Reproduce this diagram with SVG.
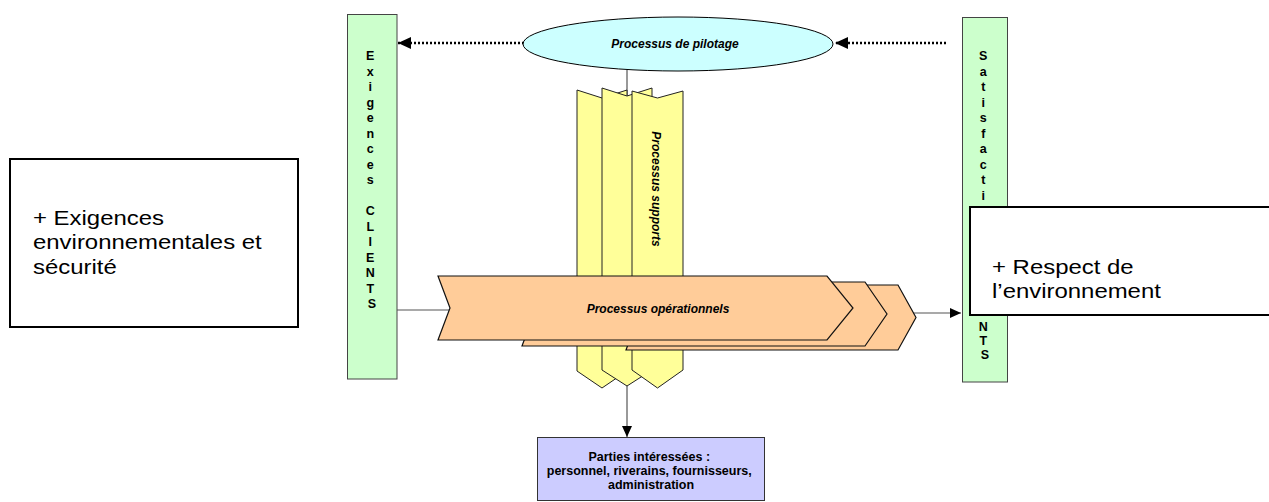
<svg xmlns="http://www.w3.org/2000/svg" width="1269" height="502" viewBox="0 0 1269 502">
  <style>
    .bar { fill: #ccffcc; stroke: #444; stroke-width: 1; }
    .sup { fill: #ffff99; stroke: #222; stroke-width: 1; }
    .op { fill: #ffcc99; stroke: #111; stroke-width: 1.2; }
    .note { fill: #fff; stroke: #000; stroke-width: 2; }
    .vl { font-family: "Liberation Sans", Arial, sans-serif; font-size: 12.5px; font-weight: bold; text-anchor: middle; fill: #000; }
    .bi { font-family: "Liberation Sans", Arial, sans-serif; font-size: 12px; font-weight: bold; font-style: italic; text-anchor: middle; fill: #000; }
    .pl { font-family: "Liberation Sans", Arial, sans-serif; font-size: 12.5px; font-weight: bold; text-anchor: middle; fill: #000; }
    .big { font-family: "Liberation Sans", Arial, sans-serif; font-size: 21px; fill: #000; }
    .dot { fill: none; stroke: #000; stroke-width: 2.5; stroke-dasharray: 2 2; }
    .ln { fill: none; stroke: #555; stroke-width: 1.2; }
  </style>
  <defs>
    <marker id="headBig" markerUnits="userSpaceOnUse" markerWidth="14" markerHeight="12" refX="13" refY="6" orient="auto">
      <path d="M0,0 L13,6 L0,12 Z" fill="#000"/>
    </marker>
    <marker id="head" markerUnits="userSpaceOnUse" markerWidth="12" markerHeight="10" refX="11" refY="5" orient="auto">
      <path d="M0,0 L11,5 L0,10 Z" fill="#000"/>
    </marker>
  </defs>

  <!-- client requirements bar -->
  <g id="exigences-clients">
    <rect class="bar" x="347.5" y="14.5" width="49.5" height="364.5"/>
    <text class="vl">
      <tspan x="372" y="60">E</tspan>
      <tspan x="372" y="75.5">x</tspan>
      <tspan x="372" y="91">i</tspan>
      <tspan x="372" y="106.5">g</tspan>
      <tspan x="372" y="122">e</tspan>
      <tspan x="372" y="137.5">n</tspan>
      <tspan x="372" y="153">c</tspan>
      <tspan x="372" y="168.5">e</tspan>
      <tspan x="372" y="184">s</tspan>
      <tspan x="372" y="215">C</tspan>
      <tspan x="372" y="230.5">L</tspan>
      <tspan x="372" y="246">I</tspan>
      <tspan x="372" y="261.5">E</tspan>
      <tspan x="372" y="277">N</tspan>
      <tspan x="372" y="292.5">T</tspan>
      <tspan x="372" y="308">S</tspan>
    </text>
  </g>

  <!-- client satisfaction bar -->
  <g id="satisfaction-clients">
    <rect class="bar" x="962.5" y="17.5" width="45" height="364.5"/>
    <text class="vl">
      <tspan x="985" y="60">S</tspan>
      <tspan x="985" y="75.5">a</tspan>
      <tspan x="985" y="91">t</tspan>
      <tspan x="985" y="106.5">i</tspan>
      <tspan x="985" y="122">s</tspan>
      <tspan x="985" y="137.5">f</tspan>
      <tspan x="985" y="153">a</tspan>
      <tspan x="985" y="168.5">c</tspan>
      <tspan x="985" y="184">t</tspan>
      <tspan x="985" y="199.5">i</tspan>
      <tspan x="985" y="331">N</tspan>
      <tspan x="985" y="345">T</tspan>
      <tspan x="985" y="359">S</tspan>
    </text>
  </g>

  <!-- connectors -->
  <g id="connectors">
    <path class="dot" d="M524,43 H398" marker-end="url(#headBig)"/>
    <path class="dot" d="M946,43 H835" marker-end="url(#headBig)"/>
    <path class="ln" d="M627,70 V99"/>
    <path class="ln" d="M397,310 H450"/>
    <path class="ln" d="M913,313 H961" marker-end="url(#head)"/>
    <path class="ln" d="M627,386 V437" marker-end="url(#head)"/>
  </g>

  <!-- steering process -->
  <g id="pilotage">
    <ellipse cx="678" cy="44" rx="155" ry="27" fill="#ccffff" stroke="#000" stroke-width="1"/>
    <text class="bi" x="675" y="48">Processus de pilotage</text>
  </g>

  <!-- support processes -->
  <g id="supports">
    <polygon class="sup" points="577,90 602,98 627,90 627,371 602,388 577,371"/>
    <polygon class="sup" points="602,88 627,96 652,88 652,370 627,386 602,370"/>
    <polygon class="sup" points="632,91 657.5,98 683,91 683,370 657.5,388 632,370"/>
    <text class="bi" font-size="14" transform="translate(652,189) rotate(90)" x="0" y="0">Processus supports</text>
  </g>

  <!-- operational processes -->
  <g id="operationnels">
    <polygon class="op" points="626,285 898,285 916,317.5 898,350 626,350 638,317.5"/>
    <polygon class="op" points="522,282 865,282 887,314 865,346 522,346 534,314"/>
    <polygon class="op" points="438,276 827,276 853,308 827,340 438,340 450,308"/>
    <text class="bi" x="658" y="313">Processus opérationnels</text>
  </g>

  <!-- interested parties -->
  <g id="parties-interessees">
    <rect x="537.5" y="437.5" width="227" height="63" fill="#ccccff" stroke="#333" stroke-width="1"/>
    <text class="pl">
      <tspan x="651" y="461">Parties intéressées :</tspan>
      <tspan x="651" y="475">personnel, riverains, fournisseurs,</tspan>
      <tspan x="651" y="489">administration</tspan>
    </text>
  </g>

  <!-- environmental and safety requirements (wide sans face) -->
  <g id="note-exigences">
    <rect class="note" x="10" y="159" width="288" height="168"/>
    <text class="big" transform="translate(33,0) scale(1.14,1)">
      <tspan x="0" y="225">+ Exigences</tspan>
      <tspan x="0" y="249.5">environnementales et</tspan>
      <tspan x="0" y="274">sécurité</tspan>
    </text>
  </g>

  <!-- respect for the environment -->
  <g id="note-respect">
    <rect class="note" x="970" y="207" width="320" height="108"/>
    <text class="big" transform="translate(992,0) scale(1.14,1)">
      <tspan x="0" y="274">+ Respect de</tspan>
      <tspan x="0" y="298.5">l’environnement</tspan>
    </text>
  </g>
</svg>
